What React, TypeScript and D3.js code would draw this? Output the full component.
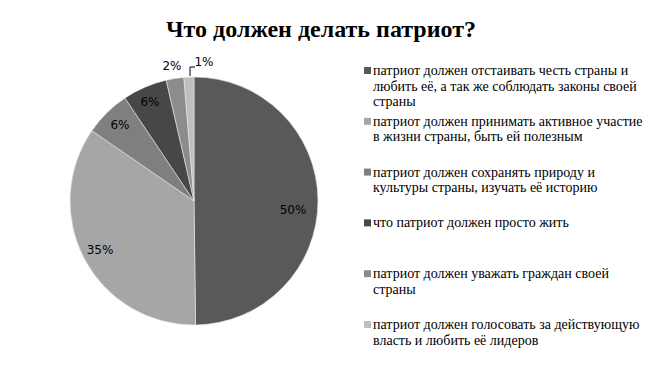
import React, { useEffect } from "react";
import * as d3 from "d3";

const title = "Что должен делать патриот?";
const categories = [
  ["патриот должен отстаивать честь страны и", "любить её, а так же  соблюдать законы своей", "страны"],
  ["патриот должен принимать активное участие", "в жизни  страны, быть ей полезным"],
  ["патриот должен сохранять природу и", "культуры страны, изучать её историю"],
  ["что патриот должен просто жить"],
  ["патриот должен уважать граждан своей", "страны"],
  ["патриот должен голосовать за действующую", "власть и любить её лидеров"],
];
const values = [49.8, 34.8, 6.0, 5.8, 2.3, 1.3];
const labels = ["50%", "35%", "6%", "6%", "2%", "1%"];
const colors = ["#595959", "#a6a6a6", "#7f7f7f", "#474747", "#8c8c8c", "#bfbfbf"];

const W = 648, H = 390;
const cx = 194, cy = 201, R = 124;
const serif = "'Liberation Serif'";
const sans = "'DejaVu Sans'";

export default function App() {
  useEffect(() => {
    document.body.style.margin = "0";
  }, []);
  const pie = d3.pie<number>().sort(null).value((d) => d);
  const arcs = pie(values);
  const arc = d3.arc<d3.PieArcDatum<number>>().innerRadius(0).outerRadius(R);
  const labelPos: [number, number][] = [
    [293, 214], [100, 254], [120, 129], [150, 106], [172, 70], [204, 66],
  ];
  const legendY0 = 75;
  const legendStep = 50.8;
  return (
    <svg width={W} height={H} style={{ display: "block", fontFamily: serif }}>
      <text x={321} y={37} textAnchor="middle" style={{ fontFamily: serif, fontWeight: "bold", fontSize: 24 }}>
        {title}
      </text>
      <g transform={`translate(${cx},${cy})`}>
        {arcs.map((a, i) => (
          <path key={i} d={arc(a) || ""} fill={colors[i]} stroke="#e8e8e8" strokeWidth={0.6} />
        ))}
      </g>
      <path d="M190,76 L190,67 L195,67" fill="none" stroke="#000" strokeWidth={1} />
      {labels.map((l, i) => (
        <text key={i} x={labelPos[i][0]} y={labelPos[i][1]} textAnchor="middle" style={{ fontFamily: sans, fontSize: 12 }}>
          {l}
        </text>
      ))}
      {categories.map((lines, i) => {
        const y = legendY0 + i * legendStep;
        return (
          <g key={i}>
            <rect x={364} y={y - 8} width={7} height={7} fill={colors[i]} />
            {lines.map((ln, j) => (
              <text key={j} x={373} y={y + j * 15.5} style={{ fontFamily: serif, fontSize: 14 }}>
                {ln}
              </text>
            ))}
          </g>
        );
      })}
    </svg>
  );
}
